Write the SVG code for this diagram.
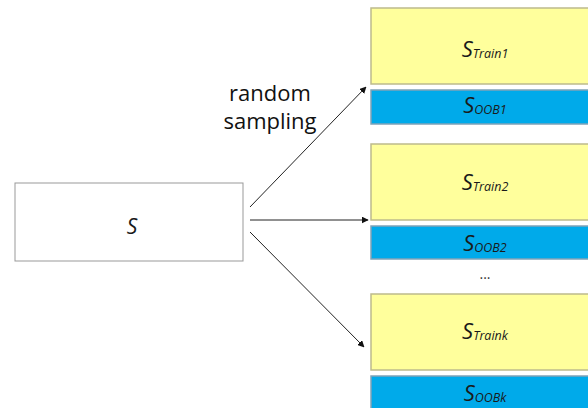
<svg xmlns="http://www.w3.org/2000/svg" width="588" height="408" viewBox="0 0 588 408">
<style>
.tr{fill:#FFFF9C;stroke:#BDBB8C;stroke-width:1.5}
.oob{fill:#00AAEA;stroke:#7FA3B8;stroke-width:1.5}
.lbl{font-family:"Open Sans","DejaVu Sans",sans-serif;font-style:italic;fill:#1a1a1a}
.big{font-size:22px}
.sub{font-size:12.5px}
.cap{font-family:"Open Sans","Liberation Sans",sans-serif;font-size:22px;fill:#111}
.con{stroke:#222;stroke-width:1;fill:none;marker-end:url(#ah)}
</style>
<defs>
<marker id="ah" viewBox="0 0 10 10" refX="9" refY="5" markerWidth="7" markerHeight="7" orient="auto" markerUnits="userSpaceOnUse">
<path d="M0,0 L10,5 L0,10 z" fill="#111"/>
</marker>
</defs>
<rect width="588" height="408" fill="#fff"/>
<g id="S">
<rect x="15" y="183" width="228" height="78" fill="#fff" stroke="#999" stroke-width="1"/>
<text class="lbl" font-size="21" x="132" y="234" text-anchor="middle">S</text>
</g>
<g id="train1">
<rect class="tr" x="371" y="8" width="230" height="76"/>
<text class="lbl" x="485" y="57" text-anchor="middle"><tspan class="big">S</tspan><tspan class="sub" dy="1">Train1</tspan></text>
</g>
<g id="oob1">
<rect class="oob" x="371" y="90" width="230" height="34"/>
<text class="lbl" x="485" y="113" text-anchor="middle"><tspan class="big">S</tspan><tspan class="sub" dy="1">OOB1</tspan></text>
</g>
<g id="train2">
<rect class="tr" x="371" y="144" width="230" height="76"/>
<text class="lbl" x="485" y="190" text-anchor="middle"><tspan class="big">S</tspan><tspan class="sub" dy="1">Train2</tspan></text>
</g>
<g id="oob2">
<rect class="oob" x="371" y="226" width="230" height="33"/>
<text class="lbl" x="485" y="251" text-anchor="middle"><tspan class="big">S</tspan><tspan class="sub" dy="1">OOB2</tspan></text>
</g>
<g id="dots">
<text x="485" y="279" text-anchor="middle" font-family="Open Sans, sans-serif" font-size="14" fill="#333">...</text>
</g>
<g id="traink">
<rect class="tr" x="371" y="294" width="230" height="76"/>
<text class="lbl" x="485" y="339" text-anchor="middle"><tspan class="big">S</tspan><tspan class="sub" dy="1">Traink</tspan></text>
</g>
<g id="oobk">
<rect class="oob" x="371" y="376" width="230" height="40"/>
<text class="lbl" x="485" y="401" text-anchor="middle"><tspan class="big">S</tspan><tspan class="sub" dy="1">OOBk</tspan></text>
</g>
<g id="caption">
<text class="cap" x="270" y="101" text-anchor="middle">random</text>
<text class="cap" x="270" y="129" text-anchor="middle">sampling</text>
</g>
<g id="connectors">
<line class="con" x1="250" y1="207" x2="366" y2="87"/>
<line class="con" x1="250" y1="220" x2="368" y2="220"/>
<line class="con" x1="250" y1="232" x2="364" y2="347"/>
</g>
</svg>
